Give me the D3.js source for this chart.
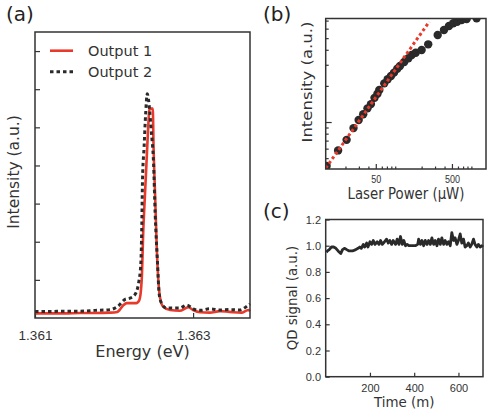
<!DOCTYPE html>
<html>
<head>
<meta charset="utf-8">
<script src="https://cdn.jsdelivr.net/npm/d3@7"></script>
<style>
body { margin: 0; background: #fff; }
svg { display: block; font-family: "DejaVu Sans", sans-serif; }
</style>
</head>
<body>
<svg id="fig" width="488" height="412"></svg>
<script>
// (a) spectra of the two outputs
var energy1 = [1.36100,1.36119,1.36138,1.36157,1.36176,1.36195,1.36204,1.36207,1.36212,1.36216,1.36222,1.36228,1.36232,1.36235,1.36237,1.36239,1.36241,1.36243,1.36245,1.36249,1.36250,1.36252,1.36254,1.36256,1.36258,1.36262,1.36271,1.36283,1.36294,1.36300,1.36309,1.36321,1.36334,1.36346,1.36361,1.36370,1.36372];
var output1 = [0.12,0.12,0.12,0.13,0.13,0.14,0.16,0.21,0.34,0.39,0.39,0.39,0.47,1.00,2.30,3.18,4.05,4.92,5.49,5.49,4.48,3.18,1.87,1.00,0.56,0.30,0.21,0.19,0.28,0.21,0.15,0.14,0.18,0.16,0.14,0.21,0.18];
var energy2 = [1.36100,1.36119,1.36138,1.36157,1.36176,1.36195,1.36205,1.36214,1.36220,1.36226,1.36231,1.36234,1.36235,1.36236,1.36238,1.36240,1.36242,1.36245,1.36247,1.36250,1.36252,1.36255,1.36257,1.36260,1.36266,1.36275,1.36283,1.36292,1.36300,1.36309,1.36321,1.36334,1.36346,1.36359,1.36370,1.36372];
var output2 = [0.17,0.17,0.18,0.18,0.20,0.22,0.31,0.49,0.52,0.60,0.91,1.47,2.30,3.61,4.48,5.36,5.88,5.45,4.92,4.05,2.75,1.44,0.65,0.39,0.26,0.26,0.26,0.34,0.24,0.20,0.24,0.21,0.22,0.21,0.34,0.37];
var energyTicks = [1.361, 1.363];
var spectrumTicks = [1, 2, 3, 4, 5, 6, 7];
var legendLabels = ["Output 1", "Output 2"];

// (b) intensity vs laser power, log-log
var power = [11.3,16.0,20.7,25.5,29.8,34.2,38.9,43.2,48.1,52.6,55.6,64.6,71.6,79.1,86.7,95.7,103.8,118,134,148,167,200,244,325,393,457,520,586,670,780,1054];
var intensity = [0.43,0.58,0.71,0.89,1.04,1.16,1.30,1.41,1.59,1.72,1.85,2.10,2.27,2.42,2.58,2.78,2.93,3.16,3.40,3.62,3.78,3.98,4.44,5.31,5.85,6.31,6.65,6.85,7.08,7.22,7.32];
var fitPower = [11, 252];
var fitIntensity = [0.413, 6.85];
var powerTicks = [50, 500];
var powerMinor = [20,30,40,60,70,80,90,200,300,400,600,700,800,900];
var intensityMajor = [1];
var intensityMinor = [0.5,0.6,0.7,0.8,0.9,2,3,4,5,6,7];

// (c) QD signal over time
var time = [3,8,16,26,36,46,56,68,76,86,95,106,121,136,146,154,161,170,176,185,191,200,208,215,223,233,241,248,256,266,275,283,290,298,305,316,323,331,338,346,353,361,368,376,390,405,416,420,428,435,443,450,458,465,473,480,488,495,503,510,518,525,533,540,548,555,563,570,578,585,593,600,608,615,623,630,638,645,653,660,668,675,683,690,698,705,711];
var qdSignal = [0.95,0.96,0.97,0.99,0.99,0.98,0.96,0.94,0.97,0.98,0.97,0.96,0.96,0.97,0.98,0.99,0.98,1.01,0.99,1.02,0.99,1.03,1.01,1.04,1.01,1.03,1.01,1.04,1.01,1.03,1.05,1.02,1.04,1.01,1.04,1.01,1.05,1.01,1.07,1.01,1.04,1.00,1.01,1.00,1.00,1.00,1.01,1.05,1.01,1.04,1.00,1.04,1.01,1.04,1.01,1.06,1.01,1.04,1.00,1.05,1.01,1.06,1.01,1.04,1.01,1.03,1.00,1.10,1.04,1.06,1.01,1.04,1.09,1.02,1.05,0.99,1.00,1.02,0.99,1.01,1.05,1.01,0.99,1.01,0.99,1.00,0.99];
var timeTicks = [200, 400, 600];
var signalTicks = [0, 0.2, 0.4, 0.6, 0.8, 1.0, 1.2];

var ink = "#333333", red = "#e8392b", dark = "#2a2a2a";
var squeeze = 0.86;   // panel (b) text is narrower than it is tall
var svg = d3.select("#fig");

function styleAxis(g, size) {
  g.select(".domain").remove();
  g.selectAll(".tick line").attr("stroke", ink).attr("stroke-width", 1.2);
  g.selectAll(".tick text").attr("fill", ink).style("font-size", size + "px");
}

function frame(g, x0, y0, x1, y1) {
  g.append("rect")
      .attr("x", x0).attr("y", y0)
      .attr("width", x1 - x0).attr("height", y1 - y0)
      .attr("fill", "none")
      .attr("stroke", ink)
      .attr("stroke-width", 1.5);
}

// ---------- (a)
var xA = d3.scaleLinear().domain([1.361, 1.36372]).range([35, 250]);
var yA = d3.scaleLinear().domain([0, 7.5]).range([318, 32]);
var a = svg.append("g");

a.append("g")
    .attr("transform", "translate(0,318)")
    .call(d3.axisBottom(xA).tickValues(energyTicks).tickFormat(d3.format(".3f")).tickSize(-5).tickPadding(12))
    .call(styleAxis, 13.5);

a.append("g")
    .attr("transform", "translate(35,0)")
    .call(d3.axisLeft(yA).tickValues(spectrumTicks).tickFormat("").tickSize(-5))
    .call(styleAxis, 13);

var lineA = d3.line()
    .curve(d3.curveMonotoneX)
    .x(function(d) { return xA(d[0]); })
    .y(function(d) { return yA(d[1]); });

a.append("path")
    .datum(d3.zip(energy1, output1))
    .attr("d", lineA)
    .attr("fill", "none")
    .attr("stroke", red)
    .attr("stroke-width", 2.6);

a.append("path")
    .datum(d3.zip(energy2, output2))
    .attr("d", lineA)
    .attr("fill", "none")
    .attr("stroke", dark)
    .attr("stroke-width", 3)
    .attr("stroke-dasharray", "3.5,3");

var legend = a.selectAll(".legend")
    .data(legendLabels)
  .enter().append("g")
    .attr("class", "legend")
    .attr("transform", function(d, i) { return "translate(50," + (50.7 + i * 21) + ")"; });

legend.append("line")
    .attr("x1", 0).attr("x2", 23)
    .attr("stroke", function(d, i) { return i ? dark : red; })
    .attr("stroke-width", function(d, i) { return i ? 3 : 2.6; })
    .attr("stroke-dasharray", function(d, i) { return i ? "3.5,3" : null; });

legend.append("text")
    .attr("x", 38).attr("y", 5)
    .attr("fill", ink)
    .style("font-size", "14.5px")
    .text(function(d) { return d; });

frame(a, 35, 32, 250, 318);

a.append("text")
    .attr("x", 142.5).attr("y", 357)
    .attr("text-anchor", "middle")
    .attr("fill", ink)
    .style("font-size", "16px")
    .text("Energy (eV)");

a.append("text")
    .attr("transform", "translate(19,172) rotate(-90)")
    .attr("text-anchor", "middle")
    .attr("fill", ink)
    .style("font-size", "15.5px")
    .text("Intensity (a.u.)");

a.append("text")
    .attr("x", 6).attr("y", 21)
    .attr("fill", "#222")
    .style("font-size", "20px")
    .text("(a)");

// ---------- (b)
var xB = d3.scaleLog().domain([11, 1400]).range([325.7, 486]);
var yB = d3.scaleLog().domain([0.406, 7.29]).range([169, 18.5]);
var b = svg.append("g");

svg.append("clipPath")
    .attr("id", "clipB")
  .append("rect")
    .attr("x", 325.7).attr("y", 18.5)
    .attr("width", 486 - 325.7).attr("height", 169 - 18.5);

b.append("g")
    .attr("transform", "translate(0,169)")
    .call(d3.axisBottom(xB).tickValues(powerTicks).tickFormat(d3.format("d")).tickSize(-5).tickPadding(6.5))
    .call(styleAxis, 10.5)
    .selectAll(".tick text").attr("transform", "scale(" + squeeze + ",1)");

b.append("g")
    .attr("transform", "translate(0,169)")
    .call(d3.axisBottom(xB).tickValues(powerMinor).tickFormat("").tickSize(-2.5))
    .call(styleAxis, 10);

b.append("g")
    .attr("transform", "translate(325.7,0)")
    .call(d3.axisLeft(yB).tickValues(intensityMajor).tickFormat("").tickSize(-6))
    .call(styleAxis, 10);

b.append("g")
    .attr("transform", "translate(325.7,0)")
    .call(d3.axisLeft(yB).tickValues(intensityMinor).tickFormat("").tickSize(-3))
    .call(styleAxis, 10);

var plotB = b.append("g").attr("clip-path", "url(#clipB)");

plotB.selectAll(".dot")
    .data(d3.zip(power, intensity))
  .enter().append("circle")
    .attr("class", "dot")
    .attr("cx", function(d) { return xB(d[0]); })
    .attr("cy", function(d) { return yB(d[1]); })
    .attr("r", 4.2)
    .attr("fill", dark);

plotB.append("path")
    .datum(d3.zip(fitPower, fitIntensity))
    .attr("d", d3.line()
        .x(function(d) { return xB(d[0]); })
        .y(function(d) { return yB(d[1]); }))
    .attr("fill", "none")
    .attr("stroke", red)
    .attr("stroke-width", 3)
    .attr("stroke-dasharray", "3,2.6");

frame(b, 325.7, 18.5, 486, 169);

b.append("text")
    .attr("transform", "translate(406,198.5) scale(" + squeeze + ",1)")
    .attr("text-anchor", "middle")
    .attr("fill", ink)
    .style("font-size", "15.5px")
    .text("Laser Power (\u03bcW)");

b.append("text")
    .attr("transform", "translate(312.4,82) scale(" + squeeze + ",1) rotate(-90)")
    .attr("text-anchor", "middle")
    .attr("fill", ink)
    .style("font-size", "16.5px")
    .text("Intensity (a.u.)");

b.append("text")
    .attr("x", 263).attr("y", 21)
    .attr("fill", "#222")
    .style("font-size", "20px")
    .text("(b)");

// ---------- (c)
var xC = d3.scaleLinear().domain([0, 711]).range([325.7, 483]);
var yC = d3.scaleLinear().domain([0, 1.2]).range([376.7, 219.5]);
var c = svg.append("g");

c.append("g")
    .attr("transform", "translate(0,376.7)")
    .call(d3.axisBottom(xC).tickValues(timeTicks).tickSize(-4).tickPadding(8))
    .call(styleAxis, 11);

c.append("g")
    .attr("transform", "translate(325.7,0)")
    .call(d3.axisLeft(yC).tickValues(signalTicks).tickFormat(d3.format(".1f")).tickSize(-4).tickPadding(4.7))
    .call(styleAxis, 11);

c.append("path")
    .datum(d3.zip(time, qdSignal))
    .attr("d", d3.line()
        .x(function(d) { return xC(d[0]); })
        .y(function(d) { return yC(d[1]); }))
    .attr("fill", "none")
    .attr("stroke", dark)
    .attr("stroke-width", 2.8)
    .attr("stroke-linejoin", "round");

frame(c, 325.7, 219.5, 483, 376.7);

c.append("text")
    .attr("x", 404.3).attr("y", 407)
    .attr("text-anchor", "middle")
    .attr("fill", ink)
    .style("font-size", "13.4px")
    .text("Time (m)");

c.append("text")
    .attr("transform", "translate(297,298) rotate(-90)")
    .attr("text-anchor", "middle")
    .attr("fill", ink)
    .style("font-size", "13.4px")
    .text("QD signal (a.u.)");

c.append("text")
    .attr("x", 263).attr("y", 218)
    .attr("fill", "#222")
    .style("font-size", "20px")
    .text("(c)");
</script>
</body>
</html>
